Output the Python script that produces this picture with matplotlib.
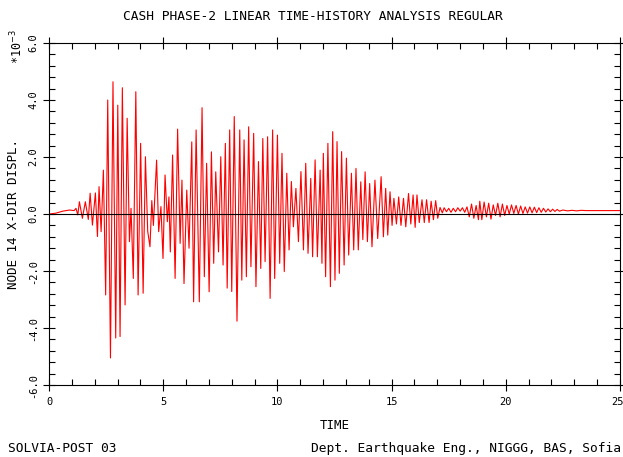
import numpy as np
import matplotlib
matplotlib.use("Agg")
import matplotlib.pyplot as plt
from matplotlib.ticker import MultipleLocator
from matplotlib.transforms import ScaledTranslation

# successive turning points of the nodal displacement record (time, displ*1e3)
t_pts = [0.0, 0.3, 0.6, 0.9, 1.1, 1.18, 1.26, 1.33, 1.46, 1.59, 1.72, 1.80, 1.90,
         2.03, 2.12, 2.19, 2.28, 2.38, 2.48, 2.57, 2.69, 2.80, 2.92, 3.01, 3.11,
         3.21, 3.33, 3.42, 3.52, 3.59, 3.69, 3.80, 3.90, 4.01, 4.12, 4.22, 4.32,
         4.42, 4.50, 4.57, 4.71, 4.80, 4.90, 4.99, 5.08, 5.18, 5.25, 5.31, 5.41,
         5.52, 5.63, 5.74, 5.82, 5.91, 6.03, 6.13, 6.25, 6.33, 6.44, 6.58, 6.70,
         6.80, 6.90, 7.01, 7.11, 7.21, 7.30, 7.42, 7.52, 7.62, 7.72, 7.80, 7.91,
         8.00, 8.11, 8.23, 8.35, 8.44, 8.54, 8.64, 8.74, 8.84, 8.96, 9.06, 9.17,
         9.27, 9.36, 9.46, 9.57, 9.68, 9.79, 9.88, 10.00, 10.10, 10.20, 10.30,
         10.41, 10.51, 10.61, 10.70, 10.81, 10.92, 11.03, 11.14, 11.24, 11.34,
         11.46, 11.54, 11.65, 11.75, 11.87, 11.95, 12.01, 12.11, 12.21, 12.32,
         12.42, 12.52, 12.61, 12.71, 12.81, 12.92, 13.02, 13.12, 13.24, 13.34,
         13.44, 13.54, 13.65, 13.74, 13.84, 13.94, 14.04, 14.14, 14.27, 14.39,
         14.54, 14.64, 14.74, 14.83, 14.93, 15.02, 15.10, 15.21, 15.31, 15.41,
         15.52, 15.62, 15.74, 15.84, 15.94, 16.03, 16.11, 16.21, 16.33, 16.43,
         16.53, 16.64, 16.73, 16.83, 16.93, 17.02, 17.12, 17.22, 17.30, 17.40,
         17.50, 17.60, 17.70, 17.80, 17.90, 18.00, 18.10, 18.20, 18.30, 18.40,
         18.50, 18.60, 18.70, 18.80, 18.86, 18.95, 19.05, 19.15, 19.25, 19.35,
         19.45, 19.55, 19.65, 19.75, 19.85, 19.95, 20.05, 20.15, 20.25, 20.35,
         20.45, 20.55, 20.65, 20.75, 20.85, 20.95, 21.05, 21.15, 21.25, 21.35,
         21.45, 21.55, 21.65, 21.75, 21.85, 21.95, 22.05, 22.15, 22.25, 22.35,
         22.50, 22.70, 22.90, 23.10, 23.30, 23.50, 25.0]
d_pts = [0.0, 0.03, 0.10, 0.14, 0.12, 0.20, -0.03, 0.43, -0.15, 0.43, -0.19, 0.73, -0.39,
         0.74, -0.79, 0.96, -0.62, 1.54, -2.84, 4.00, -5.05, 4.64, -4.35, 3.82, -4.30,
         4.43, -3.19, 3.36, -0.97, 0.20, -2.26, 4.29, -2.84, 2.48, -2.78, 2.01, -0.60,
         -1.15, 0.47, -0.40, 1.89, -0.62, 0.26, -1.56, 1.37, -0.27, 0.60, -1.33, 2.07,
         -2.26, 2.98, -1.03, 1.19, -2.44, 0.84, -1.20, 2.53, -3.08, 2.95, -3.08, 3.73,
         -2.20, 1.78, -2.73, 2.18, -1.73, 1.48, -1.33, 2.01, -1.79, 2.48, -2.60, 2.95,
         -2.72, 3.42, -3.76, 2.95, -2.32, 2.60, -2.20, 3.06, -1.85, 2.83, -2.55, 1.84,
         -1.91, 2.65, -1.67, 2.71, -2.96, 2.95, -2.26, 2.77, -1.73, 2.13, -2.02,
         1.43, -1.26, 1.14, -0.45, 0.90, -0.97, 1.49, -1.26, 1.78, -1.38,
         1.25, -1.50, 1.90, -1.50, 1.54, -1.73, 2.13, -2.20, 2.48, -2.55,
         2.89, -2.32, 2.54, -2.08, 2.19, -1.79, 1.96, -1.44, 1.43, -1.26,
         1.60, -1.26, 1.13, -0.90, 1.48, -0.97, 1.07, -1.15, 1.19, -0.86,
         1.31, -0.80, 0.90, -0.74, 0.78, -0.40, 0.55, -0.35, 0.60, -0.40,
         0.55, -0.45, 0.72, -0.35, 0.67, -0.47, 0.67, -0.30, 0.50, -0.30,
         0.50, -0.30, 0.45, -0.20, 0.47, -0.15, 0.23, 0.04, 0.22, 0.08,
         0.20, 0.06, 0.20, 0.08, 0.22, 0.10, 0.22, 0.06, 0.25, -0.10,
         0.35, -0.15, 0.30, -0.20, 0.45, -0.20, 0.42, -0.10, 0.38, -0.18,
         0.32, -0.05, 0.38, -0.10, 0.35, -0.05, 0.30, 0.00, 0.32, 0.02,
         0.30, 0.00, 0.28, 0.02, 0.25, 0.03, 0.25, 0.04, 0.24, 0.05,
         0.22, 0.06, 0.20, 0.07, 0.18, 0.08, 0.17, 0.09, 0.16, 0.10,
         0.14, 0.11, 0.13, 0.11, 0.13, 0.12, 0.12]

x_ticks = [0, 5, 10, 15, 20, 25]
y_ticks = [-6.0, -4.0, -2.0, 0.0, 2.0, 4.0, 6.0]

mono = "DejaVu Sans Mono"
plt.rcParams['font.family'] = mono

fig = plt.figure(figsize=(6.23, 4.57), dpi=100)
ax = fig.add_axes([0.0787, 0.1575, 0.9165, 0.7484])

ax.plot(t_pts, d_pts, color='#ff0000', lw=0.8)
ax.axhline(0, color='black', lw=0.8)

ax.set_xlim(0, 25)
ax.set_ylim(-6, 6)
ax.set_xticks(x_ticks)
ax.set_xticklabels([str(v) for v in x_ticks], fontsize=7.5)
ax.set_yticks(y_ticks)
ax.set_yticklabels(["%.1f" % v for v in y_ticks], fontsize=7.5, rotation=90, va='center')
ax.xaxis.set_minor_locator(MultipleLocator(1))
ax.yaxis.set_minor_locator(MultipleLocator(0.4))
ax.tick_params(which='major', direction='inout', length=9, width=0.8,
               top=True, right=True, color='black', pad=4)
ax.tick_params(which='minor', direction='in', length=4, width=0.8,
               top=True, right=True, color='black')
ax.tick_params(axis='y', which='major', pad=3)
for s in ax.spines.values():
    s.set_linewidth(0.8)

# keep the last time label inside the figure edge
last = ax.get_xticklabels()[-1]
last.set_transform(last.get_transform() + ScaledTranslation(-0.03, 0, fig.dpi_scale_trans))

ax.set_xlabel("TIME", fontsize=9, labelpad=9)
ax.set_ylabel("NODE 14 X-DIR DISPL.", fontsize=9, labelpad=6)
ax.text(-0.056, 0.99, "*10$^{-3}$", transform=ax.transAxes, rotation=90,
        fontsize=8.5, ha='center', va='center')

fig.text(0.502, 0.963, "CASH PHASE-2 LINEAR TIME-HISTORY ANALYSIS REGULAR",
         ha='center', va='center', fontsize=9.3)
fig.text(0.013, 0.018, "SOLVIA-POST 03", ha='left', va='center', fontsize=9.3)
fig.text(0.997, 0.018, "Dept. Earthquake Eng., NIGGG, BAS, Sofia",
         ha='right', va='center', fontsize=9.3)

fig.savefig("out.png", dpi=100)
